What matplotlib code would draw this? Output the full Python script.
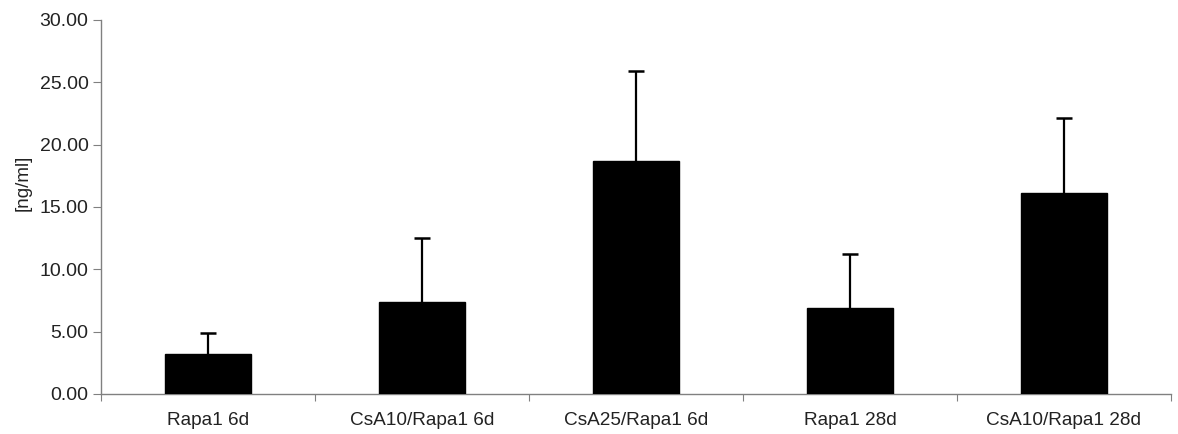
import matplotlib
matplotlib.use("Agg")
import matplotlib.pyplot as plt
import numpy as np

categories = ["Rapa1 6d", "CsA10/Rapa1 6d", "CsA25/Rapa1 6d", "Rapa1 28d", "CsA10/Rapa1 28d"]
means = [3.2, 7.4, 18.7, 6.9, 16.1]
upper_err = [1.7, 5.1, 7.2, 4.3, 6.0]
y_ticks = [0, 5, 10, 15, 20, 25, 30]

plt.rcParams['font.family'] = ['Liberation Sans', 'DejaVu Sans']

fig = plt.figure(figsize=(11.78, 4.34), dpi=100)
ax = fig.add_axes([101/1178, 1 - 394/434, 1070/1178, 374/434])

x = np.arange(len(categories))
ax.bar(x, means, width=0.4, color='black', edgecolor='black', zorder=3)
tops = np.array(means) + np.array(upper_err)
ax.errorbar(x, means, yerr=[np.zeros(len(means)), upper_err], fmt='none',
            ecolor='black', elinewidth=1.6, capsize=0, zorder=2)
ax.plot(x, tops, linestyle='none', marker='_', markersize=11, markeredgewidth=1.8,
        color='black', zorder=2)

ax.set_xlim(-0.5, len(categories) - 0.5)
ax.set_ylim(0, 30)
ax.set_yticks(y_ticks)
ax.set_yticklabels([f"{v:.2f}" for v in y_ticks], fontsize=14, color='#222222')

ax.set_xticks(np.arange(-0.5, len(categories), 1.0))
ax.set_xticklabels([])
ax.set_xticks(x, minor=True)
ax.set_xticklabels(categories, minor=True, fontsize=13.7, color='#222222')
ax.tick_params(axis='x', which='minor', length=0, pad=13)
ax.tick_params(axis='x', which='major', length=5, color='#808080', direction='out')
ax.tick_params(axis='y', length=6, color='#808080', direction='out', pad=3)

for s in ['top', 'right']:
    ax.spines[s].set_visible(False)
for s in ['left', 'bottom']:
    ax.spines[s].set_color('#808080')
    ax.spines[s].set_linewidth(1.0)

ax.set_ylabel("[ng/ml]", fontsize=13.5, color='#222222')
ax.yaxis.set_label_coords(-69/1070, 0.564)

fig.savefig("out.png", dpi=100)
